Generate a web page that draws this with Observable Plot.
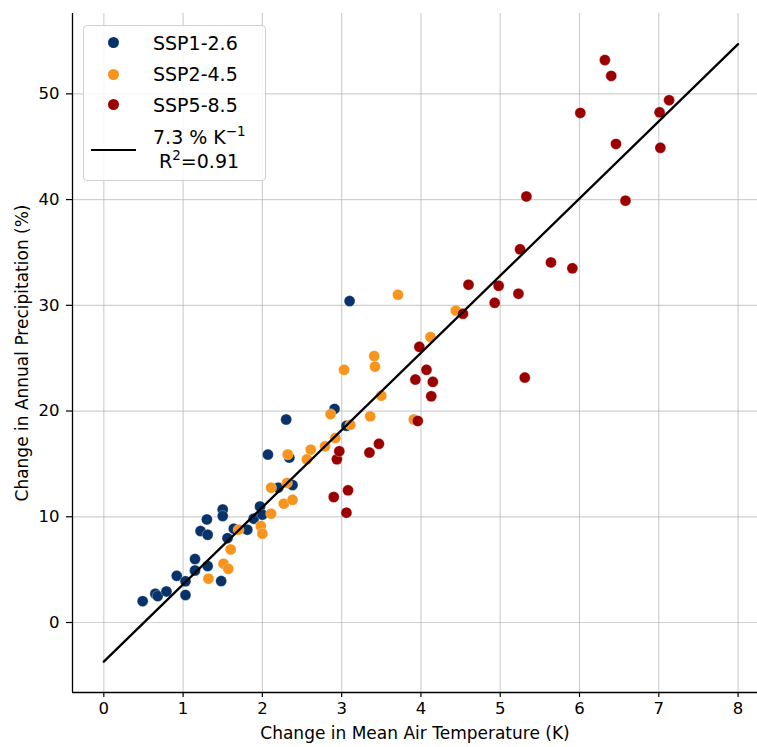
<!DOCTYPE html>
<html>
<head>
<meta charset="utf-8">
<script src="https://cdn.jsdelivr.net/npm/d3@7"></script>
<script src="https://cdn.jsdelivr.net/npm/@observablehq/plot@0.6"></script>
<style>
  body { margin: 0; background: #fff; }
  #wrap { position: relative; width: 757px; height: 747px; font-family: "DejaVu Sans", sans-serif; }
  .legend { position: absolute; left: 83px; top: 25px; width: 181px; height: 154px;
            border: 1px solid #d0d0d0; border-radius: 4px; background: rgba(255,255,255,0.85);
            font-size: 19px; color: #000; }
  .dot { position: absolute; width: 11px; height: 11px; border-radius: 50%; }
  .lbl { position: absolute; white-space: pre; line-height: 22px; }
</style>
</head>
<body>
<div id="wrap"></div>
<script>
// Scenario names and colours
const scenarios = ["SSP1-2.6", "SSP2-4.5", "SSP5-8.5"];
const colors = ["#08336a", "#f7941d", "#9a0000"];

// SSP1-2.6: [temperature change K, precipitation change %]
const ssp126 = [[0.49,2.02],[0.65,2.72],[0.68,2.5],[0.79,2.94],[0.92,4.42],[1.03,3.9],[1.03,2.6],
  [1.15,6.0],[1.15,4.92],[1.31,5.34],[1.48,3.92],[1.22,8.65],[1.31,8.3],[1.30,9.75],[1.50,10.7],
  [1.50,10.07],[1.56,7.98],[1.64,8.87],[1.81,8.78],[1.89,9.82],[1.97,10.98],[2.0,10.2],[2.20,12.75],
  [2.38,13.0],[2.07,15.88],[2.34,15.6],[2.30,19.2],[2.91,20.2],[3.06,18.6],[3.10,30.4]];

// SSP2-4.5
const ssp245 = [[1.32,4.14],[1.51,5.56],[1.57,5.08],[1.60,6.91],[1.70,8.78],[1.98,9.12],[2.0,8.4],
  [2.11,10.29],[2.11,12.75],[2.27,11.24],[2.38,11.6],[2.31,13.2],[2.32,15.9],[2.56,15.43],[2.61,16.35],
  [2.79,16.67],[2.92,17.45],[2.86,19.7],[3.11,18.7],[3.36,19.5],[3.50,21.45],[3.03,23.9],[3.41,25.2],
  [3.42,24.2],[3.71,31.0],[3.91,19.2],[4.12,27.0],[4.44,29.5]];

// SSP5-8.5
const ssp585 = [[2.90,11.87],[3.06,10.39],[3.08,12.5],[2.94,15.44],[2.97,16.2],[3.35,16.07],[3.47,16.9],
  [3.96,19.06],[3.93,22.98],[4.15,22.76],[4.13,21.4],[4.07,23.9],[3.98,26.07],[4.53,29.2],[4.60,31.95],
  [4.93,30.24],[4.98,31.85],[5.23,31.1],[5.31,23.17],[5.25,35.3],[5.33,40.3],[5.64,34.06],[5.91,33.5],
  [6.01,48.2],[6.32,53.2],[6.40,51.7],[6.46,45.26],[6.58,39.9],[7.01,48.25],[7.02,44.9],[7.13,49.4]];

// Regression line endpoints (7.3 % per K)
const fitX = [0, 8];
const fitY = [-3.7, 54.7];

// Tick values
const xTicks = [0,1,2,3,4,5,6,7,8];
const yTicks = [0,10,20,30,40,50];

const xLabel = "Change in Mean Air Temperature (K)";
const yLabel = "Change in Annual Precipitation (%)";

const points = [];
[ssp126, ssp245, ssp585].forEach((arr, i) => arr.forEach(([t, p]) => points.push({t, p, s: scenarios[i]})));
const fit = fitX.map((x, i) => ({x, y: fitY[i]}));

const plot = Plot.plot({
  width: 757,
  height: 747,
  marginLeft: 72,
  marginRight: 0,
  marginTop: 13,
  marginBottom: 55,
  style: {fontFamily: "DejaVu Sans, sans-serif", fontSize: "16px", color: "#000", background: "#fff"},
  x: {domain: [-0.395, 8.245]},
  y: {domain: [-6.62, 57.6]},
  color: {domain: scenarios, range: colors},
  marks: [
    Plot.gridX(xTicks, {stroke: "#b0b0b0", strokeOpacity: 0.6, strokeWidth: 1.2}),
    Plot.gridY(yTicks, {stroke: "#b0b0b0", strokeOpacity: 0.6, strokeWidth: 1.2}),
    Plot.axisX(xTicks, {tickSize: 5, tickFormat: () => "", label: null, stroke: "#000", strokeWidth: 1.2}),
    Plot.axisY(yTicks, {tickSize: 6, tickFormat: () => "", label: null, stroke: "#000", strokeWidth: 1.2}),
    Plot.text(xTicks, {x: d => d, text: d => String(d), frameAnchor: "bottom", dy: 21, fontSize: 16.5}),
    Plot.text(yTicks, {y: d => d, text: d => String(d), frameAnchor: "left", textAnchor: "end", dx: -13, fontSize: 16.5}),
    Plot.ruleX([-0.395], {stroke: "#000", strokeWidth: 1.3}),
    Plot.ruleY([-6.62], {stroke: "#000", strokeWidth: 1.3}),
    Plot.dot(points, {x: "t", y: "p", fill: "s", r: 5.5, stroke: "#fff", strokeWidth: 0.5, strokeOpacity: 0.6}),
    Plot.line(fit, {x: "x", y: "y", stroke: "#000", strokeWidth: 2.3}),
    Plot.text([xLabel], {frameAnchor: "bottom", textAnchor: "middle", dy: 46, fontSize: 17}),
    Plot.text([yLabel], {frameAnchor: "left", textAnchor: "middle", dx: -50, rotate: -90, fontSize: 17})
  ]
});

const wrap = document.getElementById("wrap");
wrap.appendChild(plot);

// Legend
const legend = document.createElement("div");
legend.className = "legend";
const rowsY = [16.5, 48, 78.5];
scenarios.forEach((s, i) => {
  const d = document.createElement("div");
  d.className = "dot";
  d.style.background = colors[i];
  d.style.left = "23.5px";
  d.style.top = (rowsY[i] - 5.5) + "px";
  legend.appendChild(d);
  const l = document.createElement("div");
  l.className = "lbl";
  l.style.left = "69px";
  l.style.top = (rowsY[i] - 11) + "px";
  l.textContent = s;
  legend.appendChild(l);
});
const ln = document.createElement("div");
ln.style.cssText = "position:absolute;left:7px;top:123px;width:45px;height:2.3px;background:#000;";
legend.appendChild(ln);
const sup = "font-size:13.5px;vertical-align:8px;line-height:0";
const l1 = document.createElement("div");
l1.className = "lbl";
l1.style.left = "69px";
l1.style.top = "100px";
l1.innerHTML = "7.3 % K<sup style='" + sup + "'>\u22121</sup>";
legend.appendChild(l1);
const l2 = document.createElement("div");
l2.className = "lbl";
l2.style.left = "69px";
l2.style.top = "124px";
l2.innerHTML = " R<sup style='" + sup + "'>2</sup>=0.91";
legend.appendChild(l2);
wrap.appendChild(legend);
</script>
</body>
</html>
